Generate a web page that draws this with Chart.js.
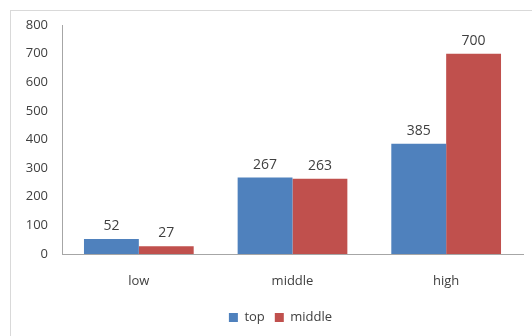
<!DOCTYPE html>
<html>
<head>
<meta charset="utf-8">
<script src="https://cdn.jsdelivr.net/npm/chart.js@4"></script>
<style>
  body { margin: 0; background: #fff; }
  #frame { position: absolute; left: 10px; top: 10px; width: 540px; height: 340px; border: 1px solid #d9d9d9; }
  #wrap { position: absolute; left: 0; top: 0; width: 532px; height: 336px; }
</style>
</head>
<body>
<div id="frame"></div>
<div id="wrap"><canvas id="myChart" width="532" height="336"></canvas></div>
<script>
const categories = ["low", "middle", "high"];
const topValues = [52, 267, 385];
const middleValues = [27, 263, 700];
const yTicks = [0, 100, 200, 300, 400, 500, 600, 700, 800];

const textColor = "#404040";
const fontFamily = "'Open Sans', 'Noto Sans', sans-serif";

const valueLabels = {
    id: "valueLabels",
    afterDatasetsDraw(chart) {
        const ctx = chart.ctx;
        ctx.save();
        ctx.font = "14px " + fontFamily;
        ctx.fillStyle = textColor;
        ctx.textAlign = "center";
        ctx.textBaseline = "bottom";
        chart.data.datasets.forEach((ds, i) => {
            chart.getDatasetMeta(i).data.forEach((bar, j) => {
                ctx.fillText(ds.data[j], bar.x, bar.y - 6);
            });
        });
        ctx.restore();
    }
};

// nudge the legend a bit to the right, like the original
const legendShift = {
    id: "legendShift",
    afterLayout(chart) {
        chart.legend.left += 19;
        chart.legend.right += 19;
    }
};

const ctx = document.getElementById("myChart").getContext("2d");
new Chart(ctx, {
    type: "bar",
    data: {
        labels: categories,
        datasets: [{
            label: "top",
            data: topValues,
            backgroundColor: "#4F81BD"
        }, {
            label: "middle",
            data: middleValues,
            backgroundColor: "#C0504D"
        }]
    },
    options: {
        responsive: false,
        animation: false,
        layout: { padding: { top: 25, right: 9, bottom: 2, left: 0 } },
        datasets: {
            bar: { barPercentage: 1, categoryPercentage: 0.714 }
        },
        plugins: {
            legend: {
                position: "bottom",
                labels: {
                    boxWidth: 9,
                    boxHeight: 9,
                    padding: 10,
                    color: textColor,
                    font: { family: fontFamily, size: 13 }
                }
            },
            tooltip: { enabled: false }
        },
        scales: {
            x: {
                grid: { display: false },
                border: { color: "#a6a6a6" },
                ticks: { color: textColor, padding: 11, font: { family: fontFamily, size: 13 } },
                afterFit: function (scale) { scale.height = 47; }
            },
            y: {
                min: 0,
                max: 800,
                grid: { display: false },
                border: { color: "#a6a6a6" },
                afterBuildTicks: function (scale) {
                    scale.ticks = yTicks.map(v => ({ value: v }));
                },
                ticks: { color: textColor, padding: 6, font: { family: fontFamily, size: 13 } },
                afterFit: function (scale) { scale.width = 62; }
            }
        }
    },
    plugins: [valueLabels, legendShift]
});
</script>
</body>
</html>
